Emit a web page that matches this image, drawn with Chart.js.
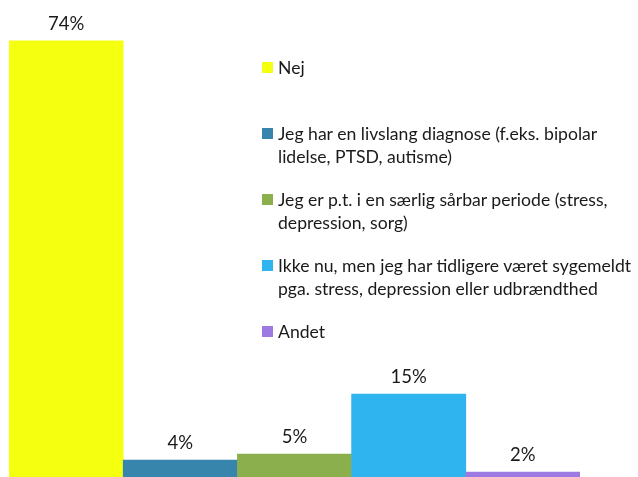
<!DOCTYPE html>
<html>
<head>
<meta charset="utf-8">
<script src="https://cdn.jsdelivr.net/npm/chart.js@4"></script>
<style>
    html, body { margin: 0; padding: 0; background: #fff; overflow: hidden; }
    #wrap { position: relative; width: 638px; height: 477px; overflow: hidden; }
    #legend { position: absolute; left: 0; top: 0; font-family: Lato, sans-serif; font-size: 17.6px; color: #1a1a1a; }
    .item { position: absolute; left: 262px; line-height: 23px; white-space: nowrap; }
    .box { position: absolute; left: 0; top: 6px; width: 11px; height: 11px; }
    .txt { margin-left: 16px; }
</style>
</head>
<body>
<div id="wrap">
    <canvas id="chart" width="638" height="484"></canvas>
    <div id="legend"></div>
</div>
<script>
/* ### Data ### */

const labels = [
    ['Nej'],
    ['Jeg har en livslang diagnose (f.eks. bipolar', 'lidelse, PTSD, autisme)'],
    ['Jeg er p.t. i en særlig sårbar periode (stress,', 'depression, sorg)'],
    ['Ikke nu, men jeg har tidligere været sygemeldt', 'pga. stress, depression eller udbrændthed'],
    ['Andet']
];
const values = [74, 4, 5, 15, 2];
const colors = ['#f5ff10', '#3784ad', '#8aaf4c', '#2fb4f0', '#9c7ae2'];

/* ### Value labels above bars ### */

const valueLabels = {
    id: 'valueLabels',
    afterDatasetsDraw(chart) {
        const ctx = chart.ctx;
        const meta = chart.getDatasetMeta(0);
        ctx.save();
        ctx.font = '18.5px Lato, sans-serif';
        ctx.fillStyle = '#1a1a1a';
        ctx.textAlign = 'center';
        ctx.textBaseline = 'alphabetic';
        meta.data.forEach((bar, i) => {
            ctx.fillText(values[i] + '%', bar.x, bar.y - 11);
        });
        ctx.restore();
    }
};

const chart = new Chart(document.getElementById('chart').getContext('2d'), {
    type: 'bar',
    data: {
        labels: labels.map(l => l.join(' ')),
        datasets: [{
            data: values,
            backgroundColor: colors,
            borderWidth: 0,
            categoryPercentage: 1,
            barPercentage: 1
        }]
    },
    options: {
        responsive: false,
        animation: false,
        layout: { padding: { left: 9, right: 58, top: 5, bottom: 0 } },
        scales: {
            x: { display: false },
            y: { display: false, min: 0, max: 80 }
        },
        plugins: {
            legend: { display: false },
            tooltip: { enabled: false }
        }
    },
    plugins: [valueLabels]
});

/* ### HTML legend (sits over the plot area) ### */

const legend = document.getElementById('legend');
labels.forEach((lines, i) => {
    const item = document.createElement('div');
    item.className = 'item';
    item.style.top = (67 - 11.5 + i * 66) + 'px';
    const box = document.createElement('div');
    box.className = 'box';
    box.style.background = colors[i];
    const txt = document.createElement('div');
    txt.className = 'txt';
    txt.innerHTML = lines.join('<br>');
    item.appendChild(box);
    item.appendChild(txt);
    legend.appendChild(item);
});
</script>
</body>
</html>
